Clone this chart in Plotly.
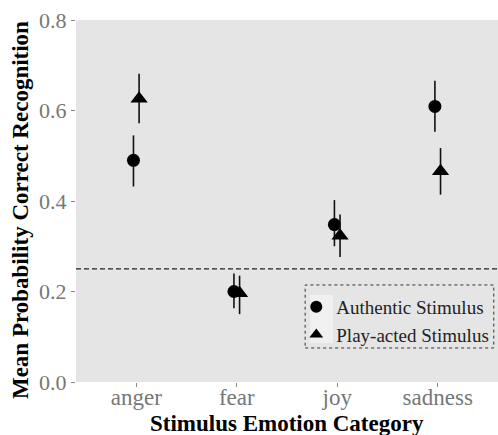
import plotly.graph_objects as go

categories = ["anger", "fear", "joy", "sadness"]
authentic_mean = [0.49, 0.20, 0.348, 0.609]
authentic_lo = [0.432, 0.163, 0.300, 0.553]
authentic_hi = [0.545, 0.240, 0.402, 0.666]
played_mean = [0.626, 0.196, 0.323, 0.466]
played_lo = [0.572, 0.150, 0.276, 0.414]
played_hi = [0.681, 0.235, 0.370, 0.517]
chance_level = 0.25
y_ticks = [0.0, 0.2, 0.4, 0.6, 0.8]

pos = list(range(1, len(categories) + 1))
dodge = 0.028

fig = go.Figure()
serif = "Liberation Serif, Times New Roman, serif"

def add_series(name, means, lo, hi, symbol, size, offset):
    fig.add_trace(go.Scatter(
        x=[p + offset for p in pos], y=means, mode="markers", name=name,
        marker=dict(symbol=symbol, size=size, color="black"),
        error_y=dict(type="data", symmetric=False,
                     array=[h - m for h, m in zip(hi, means)],
                     arrayminus=[m - l for m, l in zip(means, lo)],
                     width=0, thickness=1.6, color="#111111"),
    ))

add_series("Authentic Stimulus", authentic_mean, authentic_lo, authentic_hi, "circle", 13, -dodge)
add_series("Play-acted Stimulus", played_mean, played_lo, played_hi, "triangle-up", 15, dodge)

fig.add_shape(type="line", xref="paper", x0=0, x1=1, yref="y", y0=chance_level, y1=chance_level,
              line=dict(color="#222222", width=1.2, dash="5px,3px"))
# legend frame (dotted) and light key background
fig.add_shape(type="rect", xref="paper", yref="paper", x0=0.543, x1=0.99, y0=0.094, y1=0.268,
              line=dict(color="#333333", width=1, dash="dot"), fillcolor="rgba(0,0,0,0)")
fig.add_shape(type="rect", xref="paper", yref="paper", x0=0.555, x1=0.609, y0=0.108, y1=0.240,
              line=dict(width=0), fillcolor="#f0f0f0", layer="below")

fig.add_annotation(text="<b>Stimulus Emotion Category</b>", xref="paper", yref="paper",
                   x=0.5, y=-0.116, xanchor="center", yanchor="middle", showarrow=False,
                   font=dict(family=serif, size=23, color="black"))
fig.add_annotation(text="<b>Mean Probability Correct Recognition</b>", xref="paper", yref="paper",
                   x=-0.1327, y=0.475, xanchor="center", yanchor="middle", showarrow=False,
                   textangle=-90, font=dict(family=serif, size=23, color="black"))

fig.update_layout(
    width=498, height=435,
    margin=dict(l=76, r=0, t=20, b=53),
    paper_bgcolor="white", plot_bgcolor="#e5e5e5",
    font=dict(family=serif, size=20, color="#555555"),
    showlegend=True,
    legend=dict(x=0.522, y=0.26, xanchor="left", yanchor="top",
                bgcolor="rgba(0,0,0,0)", borderwidth=0,
                font=dict(family=serif, size=19, color="#222222"),
                itemsizing="constant", tracegroupgap=0),
)
fig.update_xaxes(range=[0.4, 4.6], tickvals=pos, ticktext=categories, automargin=False,
                 showgrid=False, zeroline=False, ticks="outside", ticklen=4,
                 ticklabelstandoff=-10,
                 tickcolor="#888888", tickfont=dict(size=23, color="#777777"))
fig.update_yaxes(range=[0, 0.8], tickvals=y_ticks, ticktext=[f"{v:.1f}" for v in y_ticks],
                 automargin=False,
                 showgrid=False, zeroline=False, ticks="outside", ticklen=4,
                 tickcolor="#888888", tickfont=dict(size=22, color="#777777"))

fig.write_html("out.html", config={"displayModeBar": False},
               post_script="document.body.style.margin='0';")
